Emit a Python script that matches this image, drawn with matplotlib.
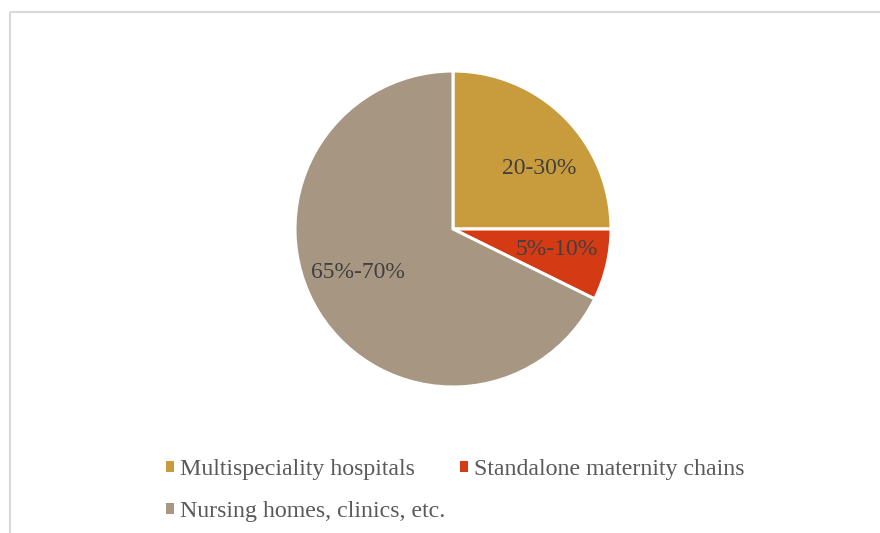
import matplotlib
matplotlib.use("Agg")
import matplotlib.pyplot as plt
from matplotlib.patches import Patch, Rectangle
import numpy as np

categories = ["Multispeciality hospitals", "Standalone maternity chains", "Nursing homes, clinics, etc."]
values = [25.0, 7.3, 67.7]
value_labels = ["20-30%", "5%-10%", "65%-70%"]
colors = ["#C89B3C", "#D43A14", "#A69682"]

W, H = 880, 533
fig = plt.figure(figsize=(W / 100, H / 100), dpi=100)
fig.patch.set_facecolor("white")
plt.rcParams["font.family"] = ["Liberation Serif", "DejaVu Serif"]

# chart border (only top and left visible)
fig.add_artist(Rectangle((10 / W, (H - 12) / H), 2.0, -2.0, transform=fig.transFigure,
                         fill=False, edgecolor="#D9D9D9", linewidth=1.5))

cx, cy, r = 453, 229, 158
ax = fig.add_axes([(cx - r) / W, (H - cy - r) / H, 2 * r / W, 2 * r / H])
wedges, texts = ax.pie(values, colors=colors, startangle=90, counterclock=False,
                       labels=value_labels, labeldistance=0.67,
                       wedgeprops=dict(edgecolor="white", linewidth=2.2),
                       textprops=dict(fontsize=17, color="#404040"))
label_pos = [(0.544, 0.386), (0.658, -0.127), (-0.601, -0.278)]
for t, p in zip(texts, label_pos):
    t.set_ha("center")
    t.set_va("center")
    t.set_position(p)
ax.set_xlim(-1, 1)
ax.set_ylim(-1, 1)
ax.set_aspect("auto")
ax.axis("off")

handles = [Patch(facecolor=c, edgecolor="none") for c in colors]
order = [0, 2, 1]
leg = fig.legend([handles[i] for i in order], [categories[i] for i in order],
                 ncol=2, loc="upper left", bbox_to_anchor=(166 / W, (H - 459) / H),
                 frameon=False, fontsize=17.2, handlelength=0.34, handleheight=0.34,
                 handletextpad=0.25, columnspacing=0.62, labelspacing=0.88,
                 borderpad=0, borderaxespad=0)
for t in leg.get_texts():
    t.set_color("#595959")

fig.savefig("out.png", dpi=100, facecolor="white")
